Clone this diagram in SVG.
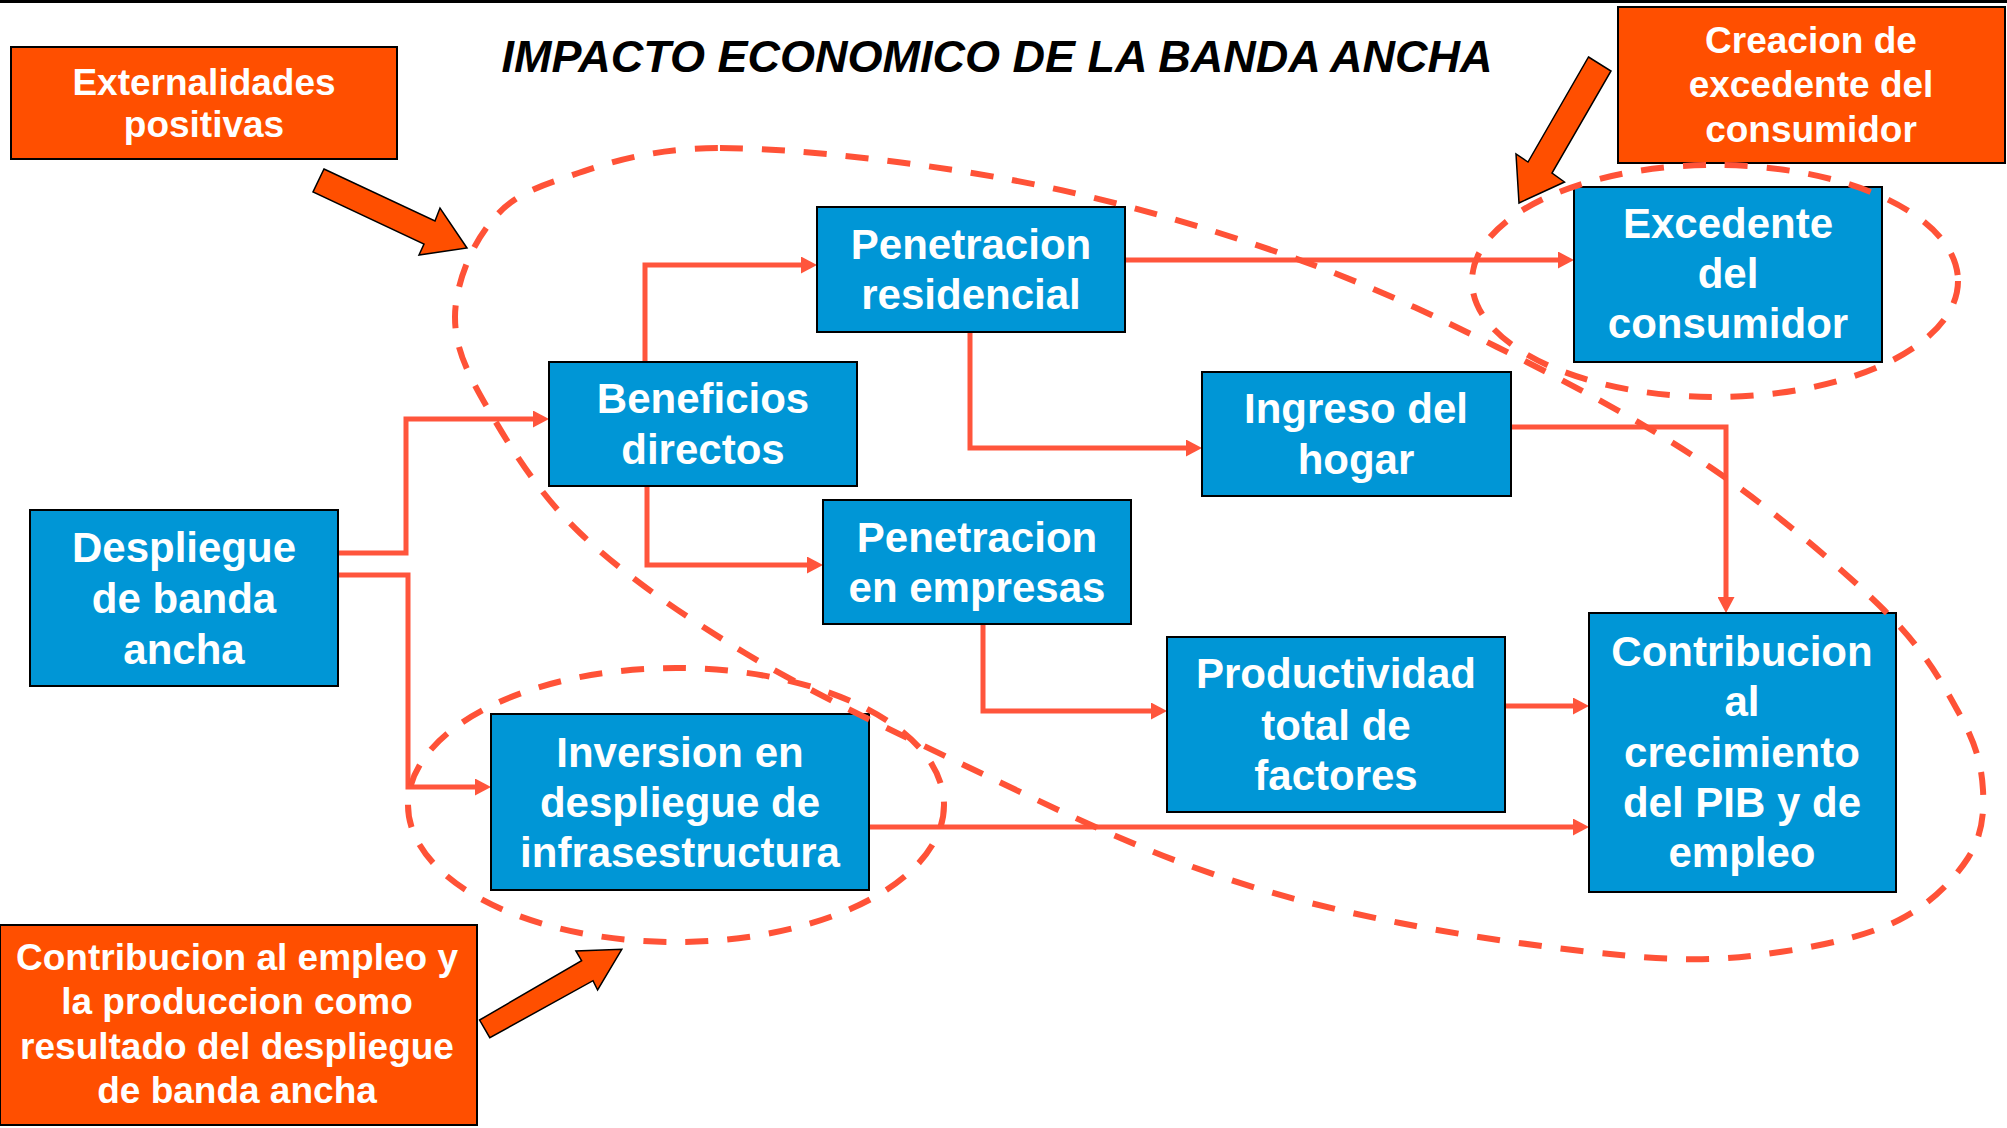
<svg xmlns="http://www.w3.org/2000/svg" width="2007" height="1128" viewBox="0 0 2007 1128">
<defs>
<style>
.node rect{fill:#0096D6;stroke:#000;stroke-width:2}
.node text{fill:#fff;font-family:"Liberation Sans",Arial,sans-serif;font-weight:bold;font-size:42px;text-anchor:middle}
.callout rect{fill:#FF4F00;stroke:#000;stroke-width:2}
.callout text{fill:#fff;font-family:"Liberation Sans",Arial,sans-serif;font-weight:bold;font-size:37px;text-anchor:middle}
.conn{fill:none;stroke:#FF553C;stroke-width:5;stroke-linejoin:miter;marker-end:url(#ah)}
.dash{fill:none;stroke:#FF5237;stroke-width:6;stroke-dasharray:23 19}
.barrow{fill:#FF4F00;stroke:#000;stroke-width:1.5;stroke-linejoin:miter}
.title{fill:#000;font-family:"Liberation Sans",Arial,sans-serif;font-weight:bold;font-style:italic;font-size:45px;text-anchor:middle}
</style>
<marker id="ah" markerUnits="userSpaceOnUse" markerWidth="16" markerHeight="17" viewBox="0 0 16 17" refX="6" refY="8.5" orient="auto">
<path d="M0,0 L16,8.5 L0,17 z" fill="#FF553C"/>
</marker>
</defs>
<rect x="0" y="0" width="2007" height="3" fill="#000"/>
<text class="title" x="997" y="72">IMPACTO ECONOMICO DE LA BANDA ANCHA</text>

<g id="connectors">
<path class="conn" d="M338,553 H406 V419 H539"/>
<path class="conn" d="M338,575 H408 V787 H481"/>
<path class="conn" d="M645,362 V265 H807"/>
<path class="conn" d="M647,486 V565 H813"/>
<path class="conn" d="M970,332 V448 H1192"/>
<path class="conn" d="M1125,260 H1564"/>
<path class="conn" d="M1511,427 H1726 V603"/>
<path class="conn" d="M983,624 V711 H1157"/>
<path class="conn" d="M1505,706 H1579"/>
<path class="conn" d="M869,827 H1579"/>
</g>

<g id="node-despliegue" class="node">
<rect x="30" y="510" width="308" height="176"/>
<text x="184" y="562">Despliegue</text>
<text x="184" y="613">de banda</text>
<text x="184" y="664">ancha</text>
</g>
<g id="node-beneficios" class="node">
<rect x="549" y="362" width="308" height="124"/>
<text x="703" y="413">Beneficios</text>
<text x="703" y="464">directos</text>
</g>
<g id="node-pen-residencial" class="node">
<rect x="817" y="207" width="308" height="125"/>
<text x="971" y="259">Penetracion</text>
<text x="971" y="309">residencial</text>
</g>
<g id="node-ingreso" class="node">
<rect x="1202" y="372" width="309" height="124"/>
<text x="1356" y="423">Ingreso del</text>
<text x="1356" y="474">hogar</text>
</g>
<g id="node-pen-empresas" class="node">
<rect x="823" y="500" width="308" height="124"/>
<text x="977" y="552">Penetracion</text>
<text x="977" y="602">en empresas</text>
</g>
<g id="node-productividad" class="node">
<rect x="1167" y="637" width="338" height="175"/>
<text x="1336" y="688">Productividad</text>
<text x="1336" y="740">total de</text>
<text x="1336" y="790">factores</text>
</g>
<g id="node-contribucion-pib" class="node">
<rect x="1589" y="613" width="307" height="279"/>
<text x="1742" y="666">Contribucion</text>
<text x="1742" y="716">al</text>
<text x="1742" y="767">crecimiento</text>
<text x="1742" y="817">del PIB y de</text>
<text x="1742" y="867">empleo</text>
</g>
<g id="node-excedente" class="node">
<rect x="1574" y="187" width="308" height="175"/>
<text x="1728" y="238">Excedente</text>
<text x="1728" y="288">del</text>
<text x="1728" y="338">consumidor</text>
</g>
<g id="node-inversion" class="node">
<rect x="491" y="714" width="378" height="176"/>
<text x="680" y="767">Inversion en</text>
<text x="680" y="817">despliegue de</text>
<text x="680" y="867">infrasestructura</text>
</g>

<g id="callout-externalidades" class="callout">
<rect x="11" y="47" width="386" height="112"/>
<text x="204" y="95">Externalidades</text>
<text x="204" y="137">positivas</text>
</g>
<g id="callout-creacion" class="callout">
<rect x="1618" y="7" width="387" height="156"/>
<text x="1811" y="53">Creacion de</text>
<text x="1811" y="97">excedente del</text>
<text x="1811" y="142">consumidor</text>
</g>
<g id="callout-contribucion" class="callout">
<rect x="0" y="925" width="477" height="200"/>
<text x="237" y="970">Contribucion al empleo y</text>
<text x="237" y="1014">la produccion como</text>
<text x="237" y="1059">resultado del despliegue</text>
<text x="237" y="1103">de banda ancha</text>
</g>

<g id="block-arrows">
<polygon class="barrow" points="324,169 435,221 440,208 467,248 419,255 424,244 313,192"/>
<polygon class="barrow" points="1588.5,57 1611,71 1552,173 1564.5,182 1519,203 1516,154 1528,162"/>
<polygon class="barrow" points="479.6,1020 581.6,960.7 575.9,951 621.8,949.3 597.6,990 593,980.7 489.8,1037.7"/>
</g>

<g id="groupings">
<path class="dash" d="M720,148 C795.7,148 918.7,162.5 1012,180 C1105.3,197.5 1199.2,225.2 1280,253 C1360.8,280.8 1425.3,311.3 1497,347 C1568.7,382.7 1645.5,423.2 1710,467 C1774.5,510.8 1842.3,568.7 1884,610 C1925.7,651.3 1943.5,685 1960,715 C1976.5,745 1981.7,766.2 1983,790 C1984.3,813.8 1982,836.3 1968,858 C1954,879.7 1930.3,904.3 1899,920 C1867.7,935.7 1822.8,945.8 1780,952 C1737.2,958.2 1705.3,961.8 1642,957 C1578.7,952.2 1474.8,938 1400,923 C1325.2,908 1265,893 1193,867 C1121,841 1042.7,802.7 968,767 C893.3,731.3 809.7,692 745,653 C680.3,614 623,574 580,533 C537,492 507.8,443 487,407 C466.2,371 455,347 455,317 C455,287 469.8,249.8 487,227 C504.2,204.2 519.2,193.2 558,180 C596.8,166.8 644.3,148 720,148 Z"/>
<ellipse class="dash" cx="1715" cy="281" rx="243" ry="116"/>
<ellipse class="dash" cx="676" cy="805" rx="268" ry="137"/>
</g>
</svg>
